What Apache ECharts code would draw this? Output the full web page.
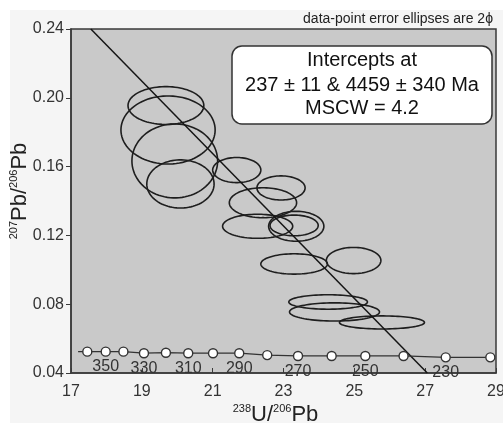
<!DOCTYPE html>
<html>
<head>
<meta charset="utf-8">
<script src="https://cdn.jsdelivr.net/npm/echarts@6/dist/echarts.min.js"></script>
<style>
html, body { margin: 0; padding: 0; background: #fff; }
#main { width: 503px; height: 424px; }
</style>
</head>
<body>
<div id="main"></div>
<script>
// concordia, one point every 10 Ma (first point is just the start of the curve)
const concAge = [null, 360, 350, 340, 330, 320, 310, 300, 290, 280, 270, 260, 250, 240, 230, 220];
const concX = [17.2, 17.46, 17.98, 18.48, 19.06, 19.68, 20.31, 21.01, 21.75, 22.54, 23.41, 24.36, 25.31, 26.39, 27.58, 28.84];
const concY = [0.0524, 0.0524, 0.0524, 0.0524, 0.0515, 0.0518, 0.0515, 0.0515, 0.0515, 0.0504, 0.0499, 0.0499, 0.0499, 0.0499, 0.0491, 0.0491];
const labelAges = [350, 330, 310, 290, 270, 250, 230];

// error ellipses: centre and half axes
const ellX = [19.68, 19.74, 19.93, 20.09, 21.68, 22.93, 22.42, 22.27, 23.36, 23.30, 23.30, 24.98, 24.26, 24.44, 25.78];
const ellY = [0.1955, 0.1813, 0.1633, 0.1499, 0.1580, 0.1476, 0.1390, 0.1253, 0.1253, 0.1258, 0.1034, 0.1054, 0.0813, 0.0755, 0.0694];
const ellRx = [1.07, 1.33, 1.21, 0.95, 0.68, 0.68, 0.95, 0.99, 0.78, 0.68, 0.94, 0.77, 1.11, 1.27, 1.20];
const ellRy = [0.0110, 0.0198, 0.0215, 0.0140, 0.0073, 0.0070, 0.0087, 0.0070, 0.0087, 0.0060, 0.0059, 0.0076, 0.0042, 0.0053, 0.0038];

// discordia end points
const lineX = [17.56, 27.06];
const lineY = [0.24, 0.04];

const xTicks = [17, 19, 21, 23, 25, 27, 29];

const font = 'Liberation Sans, Arial, sans-serif';
const ink = '#222';

const myChart = echarts.init(document.getElementById('main'));

const option = {
    backgroundColor: '#fff',
    animation: false,
    textStyle: { fontFamily: font },
    grid: {
        left: 71, right: 7, top: 29, bottom: 51,
        outerBoundsMode: 'none',
        containLabel: false,
        show: true,
        backgroundColor: '#c9c9c9',
        borderColor: '#3a3a3a',
        borderWidth: 1.5
    },
    xAxis: {
        type: 'value',
        min: 17,
        max: 29,
        name: '{sup|238}{main|U/}{sup|206}{main|Pb}',
        nameLocation: 'middle',
        nameGap: 30,
        nameMoveOverlap: false,
        nameTextStyle: {
            padding: [0, 16, 0, 0],
            rich: {
                main: { fontSize: 22, lineHeight: 24, color: ink, fontFamily: font },
                sup: { fontSize: 11, lineHeight: 12, verticalAlign: 'top', color: ink, fontFamily: font }
            }
        },
        axisLine: { lineStyle: { color: '#3a3a3a', width: 1.5 } },
        axisTick: { inside: true, length: 5, customValues: xTicks, lineStyle: { color: '#3a3a3a' } },
        axisLabel: { customValues: xTicks, fontSize: 16, color: '#333', margin: 11 },
        splitLine: { show: false }
    },
    yAxis: {
        type: 'value',
        min: 0.04,
        max: 0.24,
        interval: 0.04,
        name: '{sup|207}{main|Pb/}{sup|206}{main|Pb}',
        nameLocation: 'middle',
        nameGap: 39,
        nameMoveOverlap: false,
        nameTextStyle: {
            padding: [0, 0, 0, 20],
            rich: {
                main: { fontSize: 22, lineHeight: 24, color: ink, fontFamily: font },
                sup: { fontSize: 11, lineHeight: 12, verticalAlign: 'top', color: ink, fontFamily: font }
            }
        },
        axisLine: { show: true, lineStyle: { color: '#3a3a3a', width: 1.5 } },
        axisTick: { length: 5, lineStyle: { color: '#3a3a3a' } },
        axisLabel: {
            fontSize: 16, color: '#333', margin: 7,
            formatter: v => v.toFixed(2)
        },
        splitLine: { show: false }
    },
    graphic: [
        {
            type: 'rect', left: 10, top: 10, z: -1, silent: true,
            shape: { width: 493, height: 413 },
            style: { fill: '#f5f5f5' }
        },
        {
            type: 'text', z: 100,
            x: 493, y: 19,
            style: {
                text: 'data-point error ellipses are 2ϕ',
                font: '14px ' + font, fill: ink,
                align: 'right', verticalAlign: 'middle'
            }
        },
        {
            type: 'rect', z: 100,
            shape: { x: 232, y: 46, width: 260, height: 78, r: 10 },
            style: { fill: '#fff', stroke: '#333', lineWidth: 1.5 }
        },
        {
            type: 'text', z: 101, x: 362, y: 60,
            style: { text: 'Intercepts at', font: '20px ' + font, fill: '#111', align: 'center', verticalAlign: 'middle' }
        },
        {
            type: 'text', z: 101, x: 362, y: 85,
            style: { text: '237 ± 11 & 4459 ± 340 Ma', font: '20px ' + font, fill: '#111', align: 'center', verticalAlign: 'middle' }
        },
        {
            type: 'text', z: 101, x: 362, y: 108,
            style: { text: 'MSCW = 4.2', font: '20px ' + font, fill: '#111', align: 'center', verticalAlign: 'middle' }
        }
    ],
    series: [
        {
            // error ellipses
            type: 'custom',
            z: 2,
            encode: { x: 0, y: 1 },
            data: ellX.map((x, i) => [x, ellY[i], ellRx[i], ellRy[i]]),
            renderItem: function (params, api) {
                const cx = api.value(0), cy = api.value(1);
                const rx = api.value(2), ry = api.value(3);
                const pts = [];
                for (let k = 0; k < 90; k++) {
                    const a = k / 90 * Math.PI * 2;
                    pts.push(api.coord([cx + rx * Math.cos(a), cy + ry * Math.sin(a)]));
                }
                return {
                    type: 'polygon',
                    shape: { points: pts },
                    style: { fill: 'none', stroke: '#1e1e1e', lineWidth: 1.6 }
                };
            }
        },
        {
            // discordia
            type: 'line',
            z: 3,
            symbol: 'none',
            data: lineX.map((x, i) => [x, lineY[i]]),
            lineStyle: { color: '#151515', width: 1.5 }
        },
        {
            // concordia
            type: 'line',
            z: 4,
            symbol: 'circle',
            symbolSize: 9,
            data: concX.map((x, i) => ({
                value: [x, concY[i]],
                symbol: concAge[i] === null ? 'none' : 'circle',
                label: {
                    show: labelAges.includes(concAge[i]),
                    formatter: String(concAge[i])
                }
            })),
            lineStyle: { color: '#333', width: 1.3 },
            itemStyle: { color: '#fff', borderColor: '#333', borderWidth: 1.4 },
            label: {
                position: 'bottom',
                distance: 2,
                fontSize: 16,
                color: '#333',
                fontFamily: font
            }
        }
    ]
};

myChart.setOption(option);
</script>
</body>
</html>
